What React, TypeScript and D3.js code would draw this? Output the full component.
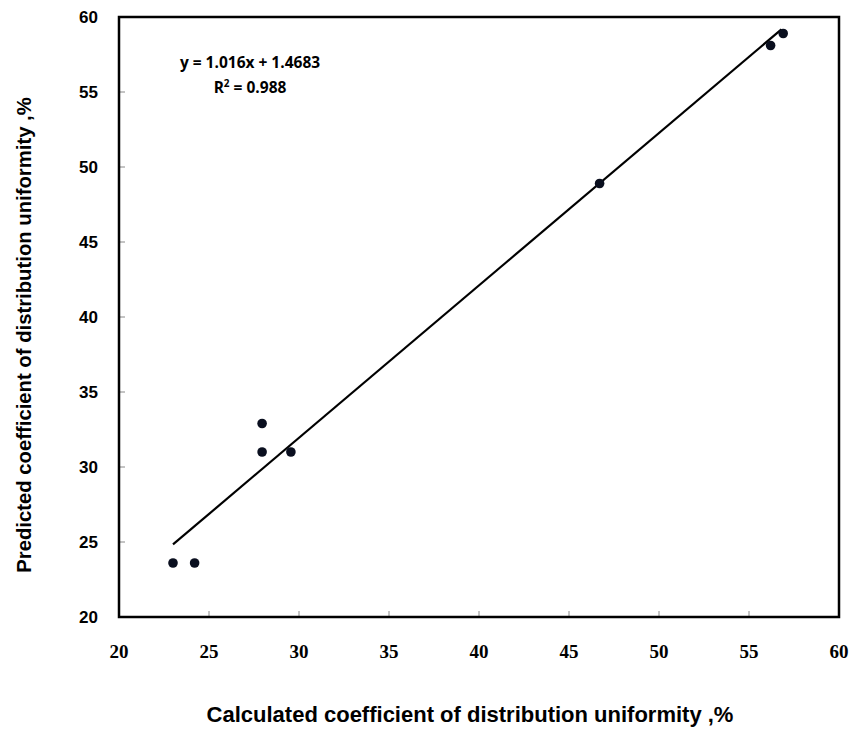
import React from "react";
import * as d3 from "d3";

const calculated = [23.0, 24.2, 27.95, 27.95, 29.55, 46.7, 56.2, 56.9];
const predicted = [23.6, 23.6, 32.9, 31.0, 31.0, 48.9, 58.1, 58.9];
const xTicks = [20, 25, 30, 35, 40, 45, 50, 55, 60];
const yTicks = [20, 25, 30, 35, 40, 45, 50, 55, 60];
const slope = 1.016;
const intercept = 1.4683;
const fitRange = [23.0, 56.8];

export default function App() {
  const W = 855, H = 729;
  const x = d3.scaleLinear().domain([20, 60]).range([119, 839]);
  const y = d3.scaleLinear().domain([20, 60]).range([617, 17]);
  const line = d3.line<number>().x((d) => x(d)).y((d) => y(slope * d + intercept));
  return (
    <svg width={W} height={H} style={{ position: "absolute", left: 0, top: 0, background: "#fff" }}>
      <rect x={0} y={0} width={W} height={H} fill="#fff" />
      {xTicks.map((t) => (
        <g key={"x" + t}>
          <line x1={x(t)} x2={x(t)} y1={617} y2={611} stroke="#888" strokeWidth={1} />
          <text x={x(t)} y={658} textAnchor="middle" fontFamily="'Liberation Serif', 'Times New Roman', serif" fontWeight="bold" fontSize={19} fill="#000">{t}</text>
        </g>
      ))}
      {yTicks.map((t) => (
        <g key={"y" + t}>
          <line x1={119} x2={125} y1={y(t)} y2={y(t)} stroke="#888" strokeWidth={1} />
          <text x={98} y={y(t) + 6} textAnchor="end" fontFamily="'Liberation Sans', Arial, sans-serif" fontWeight="bold" fontSize={17} fill="#000">{t}</text>
        </g>
      ))}
      <rect x={119} y={17} width={720} height={600} fill="none" stroke="#000" strokeWidth={2.5} />
      <path d={line(fitRange) || ""} fill="none" stroke="#000" strokeWidth={2.2} />
      {calculated.map((c, i) => (
        <circle key={i} cx={x(c)} cy={y(predicted[i])} r={4.8} fill="#0a0f1f" />
      ))}
      <text x={250} y={68} textAnchor="middle" fontFamily="'Open Sans', 'Liberation Sans', sans-serif" fontWeight="bold" fontSize={15.5} fill="#000">y = 1.016x + 1.4683</text>
      <text x={250} y={93} textAnchor="middle" fontFamily="'Open Sans', 'Liberation Sans', sans-serif" fontWeight="bold" fontSize={15.5} fill="#000">
        R<tspan dy={-6} fontSize={10}>2</tspan><tspan dy={6}> = 0.988</tspan>
      </text>
      <text x={470} y={722} textAnchor="middle" fontFamily="'Liberation Sans', Arial, sans-serif" fontWeight="bold" fontSize={22} fill="#000">Calculated coefficient of distribution  uniformity ,%</text>
      <text transform={`translate(31,${335}) rotate(-90)`} textAnchor="middle" fontFamily="'Liberation Sans', Arial, sans-serif" fontWeight="bold" fontSize={20.3} fill="#000">Predicted coefficient of distribution uniformity ,%</text>
    </svg>
  );
}
